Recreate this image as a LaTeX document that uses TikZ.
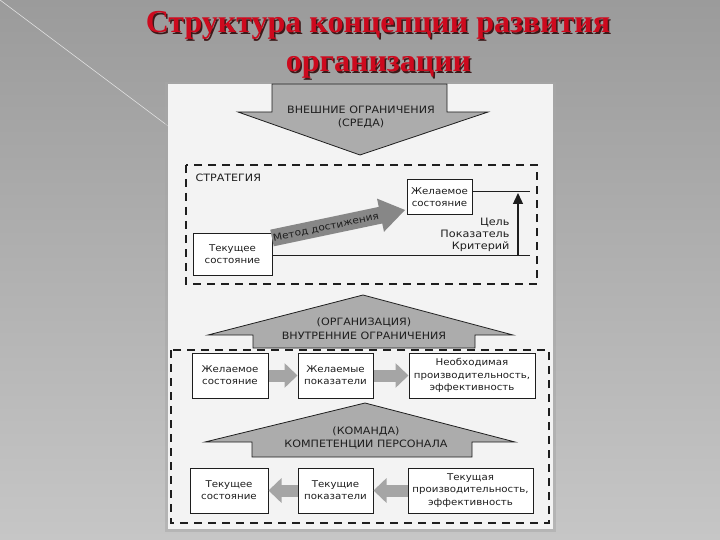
\documentclass[tikz,border=0pt]{standalone}
\usepackage{fontspec}
\setmainfont{DejaVu Sans}[FakeStretch=1.1]
\newfontfamily\titlefont{Liberation Serif}[BoldFont={Liberation Serif Bold}]
\usetikzlibrary{arrows.meta,calc}
\definecolor{bgtop}{RGB}{155,155,155}
\definecolor{bgbot}{RGB}{198,198,198}
\definecolor{panel}{RGB}{243,243,243}
\definecolor{titlered}{RGB}{205,10,30}
\definecolor{shadowc}{RGB}{60,25,25}
\definecolor{hfill}{RGB}{172,172,172}
\definecolor{mfill}{RGB}{135,135,135}
\definecolor{afill}{RGB}{165,165,165}
\definecolor{ink}{RGB}{30,30,30}
\begin{document}
\begin{tikzpicture}[x=1pt,y=-1pt,
  txt/.style={font=\fontsize{9.3}{12.3}\selectfont, text=ink, align=center},
  caps/.style={font=\fontsize{10.1}{13.5}\selectfont, text=ink, align=center},
  box/.style={txt, draw=ink, line width=1pt, fill=white, inner sep=1pt},
  harrow/.style={fill=hfill, draw=ink, line width=0.8pt},
  dashbox/.style={draw=ink, line width=1.1pt, dash pattern=on 8pt off 6pt},
  barrow/.style={draw=afill, line width=12pt, -{Triangle[width=24pt,length=13pt]}},
  ttl/.style={font=\titlefont\bfseries\fontsize{32}{36}\selectfont, anchor=base}
]
\useasboundingbox (0,0) rectangle (720,540);
\shade[top color=bgtop, bottom color=bgbot] (0,0) rectangle (720,540);
\draw[white!75!gray, line width=0.6pt] (0,0) -- (168,126);
% panel
\fill[black!35, opacity=0.5] (165,82) rectangle (556,532);
\fill[panel] (168,84) rectangle (553,529);
% title
\node[ttl, text=shadowc] (t1s) at (379.5,34.5) {Структура концепции развития};
\node[ttl, text=titlered] (t1) at (378,33) {Структура концепции развития};
\node[ttl, text=shadowc] (t2s) at (380,73.5) {организации};
\node[ttl, text=titlered] (t2) at (378.5,72) {организации};
% top arrow
\filldraw[harrow] (272,84) -- (447,84) -- (447,112) -- (488,112) -- (360,155) -- (238,112) -- (272,112) -- cycle;
\node[caps] (ext) at (361,117) {ВНЕШНИЕ ОГРАНИЧЕНИЯ\\(СРЕДА)};
% strategy
\draw[dashbox] (186,165) rectangle (537,284);
\node[caps, anchor=west] (str) at (192,178) {СТРАТЕГИЯ};
\node[box, minimum width=65, minimum height=35] (dz) at (439.5,197.5) {Желаемое\\состояние};
\node[box, minimum width=79, minimum height=42] (tek) at (232.5,254) {Текущее\\состояние};
\coordinate (r1) at (530,192);
\coordinate (r2) at (530,255);
\draw[ink, line width=1pt] (dz.east |- r1) -- (r1);
\draw[ink, line width=1pt] (tek.east |- r2) -- (r2);
\coordinate (ua) at (518,255);
\coordinate (ub) at (518,193);
\draw[ink, line width=1.3pt, -{Triangle[width=10pt,length=11pt]}] (ua) -- (ub);
\node[caps, anchor=east, align=right, font=\fontsize{10.2}{11.8}\selectfont] (crit) at (513,235) {Цель\\Показатель\\Критерий};
% method arrow
\fill[mfill] (273.75,246.3) -- (382.25,223.5) -- (384.0,231.8) -- (405,210) -- (377.0,198.6) -- (378.75,206.9) -- (270.25,229.7) -- cycle;
\node[caps, rotate=12, text=ink, font=\fontsize{9.6}{12}\selectfont] (met) at (326,227.5) {Метод достижения};
% organization
\filldraw[harrow] (363,295) -- (513,335) -- (475,335) -- (475,348) -- (253,348) -- (253,335) -- (208,335) -- cycle;
\node[caps] (org) at (364,328.5) {(ОРГАНИЗАЦИЯ)\\ВНУТРЕННИЕ ОГРАНИЧЕНИЯ};
\draw[dashbox] (171,350) rectangle (549,523);
\node[box, minimum width=76, minimum height=45] (b1) at (230,375.5) {Желаемое\\состояние};
\node[box, minimum width=75, minimum height=45] (b2) at (335.5,375.5) {Желаемые\\показатели};
\node[box, minimum width=126, minimum height=45] (b3) at (472,375.5) {Необходимая\\производительность,\\эффективность};
\draw[barrow] (b1.east) -- (b2.west);
\draw[barrow] (b2.east) -- (b3.west);
% team
\filldraw[harrow] (365,403) -- (515,442) -- (472,442) -- (472,457) -- (252,457) -- (252,442) -- (205,442) -- cycle;
\node[caps] (team) at (366,438) {(КОМАНДА)\\КОМПЕТЕНЦИИ ПЕРСОНАЛА};
\node[box, minimum width=78, minimum height=45] (c1) at (229,490.5) {Текущее\\состояние};
\node[box, minimum width=75, minimum height=45] (c2) at (335.5,490.5) {Текущие\\показатели};
\node[box, minimum width=125, minimum height=45] (c3) at (470.5,490.5) {Текущая\\производительность,\\эффективность};
\draw[barrow] (c2.west) -- (c1.east);
\draw[barrow] (c3.west) -- (c2.east);
\end{tikzpicture}
\end{document}
